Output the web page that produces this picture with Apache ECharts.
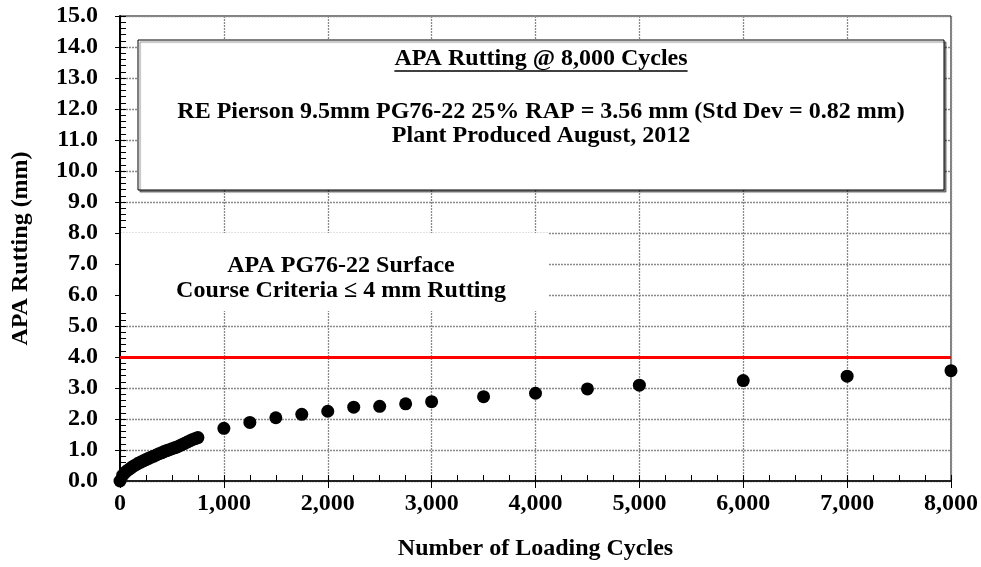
<!DOCTYPE html>
<html>
<head>
<meta charset="utf-8">
<script src="https://cdn.jsdelivr.net/npm/echarts@6/dist/echarts.min.js"></script>
<style>
html,body{margin:0;padding:0;background:#fff;}
#chart{width:981px;height:567px;}
</style>
</head>
<body>
<div id="chart"></div>
<script>
// Data
const cycles = [0,25,50,75,100,125,150,175,200,225,250,275,300,325,350,375,400,425,450,475,500,525,550,575,600,625,650,675,700,725,750,
  1000,1250,1500,1750,2000,2250,2500,2750,3000,3500,4000,4500,5000,6000,7000,8000];
const rutting = [0.00,0.18,0.28,0.35,0.41,0.47,0.52,0.57,0.61,0.65,0.69,0.73,0.77,0.80,0.84,0.88,0.91,0.95,0.98,1.01,1.04,1.07,1.10,1.14,1.18,1.22,1.26,1.30,1.34,1.37,1.40,
  1.70,1.89,2.04,2.15,2.25,2.38,2.41,2.49,2.56,2.72,2.83,2.97,3.09,3.24,3.38,3.56];
const criteria = 4.0;
const xTicks = {min:0, max:8000, major:1000, minor:250};
const yTicks = {min:0, max:15, major:1, minor:0.2};
const titleLines = ["APA Rutting @ 8,000 Cycles",
  "RE Pierson 9.5mm PG76-22 25% RAP = 3.56 mm (Std Dev = 0.82 mm)",
  "Plant Produced August, 2012"];
const criteriaLines = ["APA PG76-22 Surface", "Course Criteria \u2264 4 mm Rutting"];
const xName = "Number of Loading Cycles";
const yName = "APA Rutting (mm)";

const FONT = "'Liberation Serif','Times New Roman',serif";
const FS = 24;
const gridPos = {left:120, right:30, top:16, bottom:86};

const chart = echarts.init(document.getElementById('chart'), null, {renderer:'canvas'});
const pts = cycles.map((c,i)=>[c, rutting[i]]);

const boxFont = 'bold '+FS+'px '+FONT;
const txt = (s, x, y) => ({type:'text', z:12, style:{text:s, x:x, y:y, textAlign:'center', textVerticalAlign:'middle',
  font:boxFont, fill:'#000'}});

// width of the underlined title
const cv = document.createElement('canvas').getContext('2d');
cv.font = boxFont;
const tW = cv.measureText(titleLines[0]).width;
const tCx = 541;

chart.setOption({
  animation:false,
  backgroundColor:'#fff',
  grid:[
    Object.assign({show:true, borderColor:'#000', borderWidth:1, backgroundColor:'transparent'}, gridPos),
    Object.assign({show:false}, gridPos)
  ],
  xAxis:[{
    type:'value', gridIndex:0, min:xTicks.min, max:xTicks.max, interval:xTicks.major,
    name:xName, nameLocation:'middle', nameGap:56,
    nameTextStyle:{fontFamily:FONT, fontWeight:'bold', fontSize:FS, color:'#000'},
    axisLine:{show:true, lineStyle:{color:'#222', width:2}},
    axisTick:{show:true, inside:false, length:7, lineStyle:{color:'#000', width:1}},
    axisLabel:{fontFamily:FONT, fontWeight:'bold', fontSize:FS, color:'#000', margin:11,
      formatter:v=>v.toLocaleString('en-US')},
    splitLine:{show:true, lineStyle:{color:'#8a8a8a', width:1.3, type:[2,1]}}
  },{
    type:'value', gridIndex:1, min:xTicks.min, max:xTicks.max, interval:xTicks.minor,
    axisLine:{show:false}, axisLabel:{show:false}, splitLine:{show:false},
    axisTick:{show:true, inside:true, length:6, lineStyle:{color:'#000', width:1}}
  }],
  yAxis:[{
    type:'value', gridIndex:0, min:yTicks.min, max:yTicks.max, interval:yTicks.major,
    name:yName, nameLocation:'middle', nameGap:87,
    nameTextStyle:{fontFamily:FONT, fontWeight:'bold', fontSize:FS, color:'#000'},
    axisLine:{show:true, lineStyle:{color:'#000', width:2}},
    axisTick:{show:true, inside:false, length:5, lineStyle:{color:'#000', width:1}},
    axisLabel:{fontFamily:FONT, fontWeight:'bold', fontSize:FS, color:'#000', margin:22,
      formatter:v=>v.toFixed(1)},
    splitLine:{show:true, lineStyle:{color:'#8a8a8a', width:1.3, type:[2,1]}}
  },{
    type:'value', gridIndex:1, min:yTicks.min, max:yTicks.max, interval:yTicks.minor,
    axisLine:{show:false}, axisLabel:{show:false}, splitLine:{show:false},
    axisTick:{show:true, inside:true, length:6, lineStyle:{color:'#000', width:1}}
  }],
  series:[{
    type:'scatter', xAxisIndex:0, yAxisIndex:0, data:pts, symbol:'circle', symbolSize:13,
    itemStyle:{color:'#000', opacity:1}, clip:false, silent:true, z:5,
    markLine:{silent:true, symbol:['none','none'], label:{show:false},
      lineStyle:{color:'#ff0000', width:3, type:'solid', opacity:1},
      data:[{yAxis:criteria}]}
  }],
  graphic:[
    {type:'rect', z:10, shape:{x:138, y:40, width:806, height:150},
      style:{fill:'#fff', stroke:'#000', lineWidth:1, shadowColor:'rgba(0,0,0,0.45)', shadowOffsetX:2, shadowOffsetY:2, shadowBlur:1}},
    txt(titleLines[0], tCx, 59),
    {type:'line', z:12, shape:{x1:tCx - tW/2, y1:71, x2:tCx + tW/2, y2:71}, style:{stroke:'#000', lineWidth:1.5}},
    txt(titleLines[1], tCx, 112),
    txt(titleLines[2], tCx, 136),
    {type:'rect', z:10, shape:{x:121, y:233, width:427, height:78}, style:{fill:'#fff', stroke:null}},
    txt(criteriaLines[0], 341, 266),
    txt(criteriaLines[1], 341, 291)
  ]
});
</script>
</body>
</html>
